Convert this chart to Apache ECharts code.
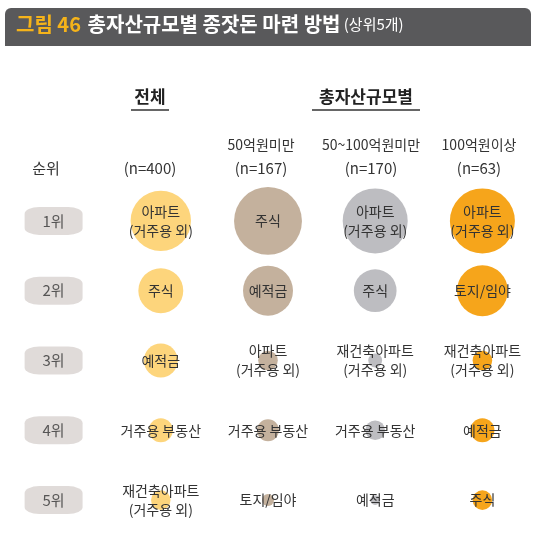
<!DOCTYPE html><html><head><meta charset="utf-8">
<script src="https://cdn.jsdelivr.net/npm/echarts@6/dist/echarts.min.js"></script>
<style>body{margin:0}#c{width:536px;height:535px}</style></head><body><div id="c"></div>
<script>
const ranks=['1위','2위','3위','4위','5위'];
const groups=['전체','50억원미만','50~100억원미만','100억원이상'];
const counts=['(n=400)','(n=167)','(n=170)','(n=63)'];
const colors=['#fdd57c','#c4b19d','#bdbdc1','#f6a51b'];
const names=[
 ['아파트\n(거주용 외)','주식','예적금','거주용 부동산','재건축아파트\n(거주용 외)'],
 ['주식','예적금','아파트\n(거주용 외)','거주용 부동산','토지/임야'],
 ['아파트\n(거주용 외)','주식','재건축아파트\n(거주용 외)','거주용 부동산','예적금'],
 ['아파트\n(거주용 외)','토지/임야','재건축아파트\n(거주용 외)','예적금','주식']];
const values=[
 [38,21,12,6,4],
 [48,26,4,5,1.5],
 [44,19,2,4,1],
 [44,27,4,6,4]];
const series=[{type:'scatter',data:ranks.map((r,i)=>[0,i,r]),symbol:'roundRect',symbolSize:[58,28],
 itemStyle:{color:'#d8d2cf'},label:{show:true,formatter:p=>p.data[2],color:'#333',fontSize:15,fontFamily:'Noto Sans CJK KR'},silent:true}];
groups.forEach((g,gi)=>{series.push({type:'scatter',data:values[gi].map((v,ri)=>[gi+1,ri,v,names[gi][ri]]),
 symbolSize:d=>Math.sqrt(d[2])*9.8,itemStyle:{color:colors[gi],opacity:1},
 label:{show:true,formatter:p=>p.data[3],color:'#333',fontSize:14,lineHeight:19,fontFamily:'Noto Sans CJK KR'}});});
const hx=[150,261,371,479];
const graphic=[
 {type:'rect',shape:{x:5,y:8,width:526,height:38,r:[6,6,0,0]},style:{fill:'#59595b'}},
 {type:'text',left:16,top:14,style:{text:'{a|그림 46}  {b|총자산규모별 종잣돈 마련 방법} {c|(상위5개)}',rich:{a:{fill:'#f5b31a',fontSize:20,fontWeight:'bold',fontFamily:'Noto Sans CJK KR'},b:{fill:'#fff',fontSize:20,fontWeight:'bold',fontFamily:'Noto Sans CJK KR'},c:{fill:'#fff',fontSize:15,fontFamily:'Noto Sans CJK KR'}}}},
 {type:'text',x:hx[0],y:97,style:{text:'전체',fill:'#222',fontSize:17,fontWeight:'bold',align:'center',verticalAlign:'middle',fontFamily:'Noto Sans CJK KR'}},
 {type:'line',shape:{x1:hx[0]-19,y1:110,x2:hx[0]+19,y2:110},style:{stroke:'#333',lineWidth:1.5}},
 {type:'text',x:366,y:97,style:{text:'총자산규모별',fill:'#222',fontSize:17,fontWeight:'bold',align:'center',verticalAlign:'middle',fontFamily:'Noto Sans CJK KR'}},
 {type:'line',shape:{x1:312,y1:110,x2:420,y2:110},style:{stroke:'#333',lineWidth:1.5}},
 {type:'text',x:46,y:168,style:{text:'순위',fill:'#333',fontSize:15,align:'center',verticalAlign:'middle',fontFamily:'Noto Sans CJK KR'}}
];
groups.forEach((g,i)=>{
 if(i>0)graphic.push({type:'text',x:hx[i],y:145,style:{text:g,fill:'#333',fontSize:14,align:'center',verticalAlign:'middle',fontFamily:'Noto Sans CJK KR'}});
 graphic.push({type:'text',x:hx[i],y:168,style:{text:counts[i],fill:'#333',fontSize:15,align:'center',verticalAlign:'middle',fontFamily:'Noto Sans CJK KR'}});
});
const ch=echarts.init(document.getElementById('c'));
ch.setOption({animation:false,backgroundColor:'#fff',
 grid:{left:-12,width:548,top:186,height:363},
 xAxis:{type:'category',data:['',...groups],show:false},
 yAxis:{type:'category',data:ranks,inverse:true,show:false},
 graphic,series});
</script></body></html>
